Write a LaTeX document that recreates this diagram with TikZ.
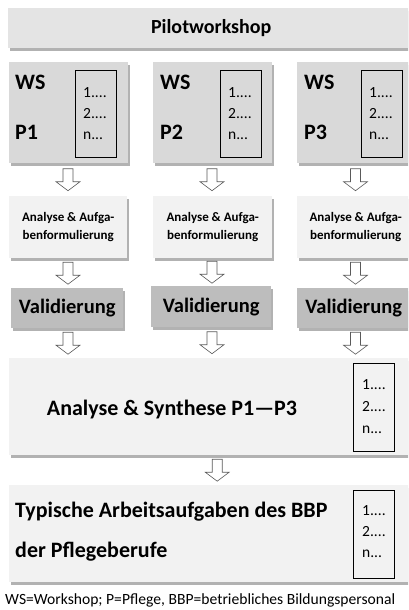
\documentclass[tikz,border=0pt]{standalone}
\usepackage{fontspec}
\setmainfont{Carlito}
\usetikzlibrary{calc,shadows}
\definecolor{pilotgray}{HTML}{E4E4E4}
\definecolor{wsgray}{HTML}{D9D9D9}
\definecolor{lightbox}{HTML}{F2F2F2}
\definecolor{valgray}{HTML}{BDBDBD}
\definecolor{arrowline}{HTML}{5A5A5A}
\tikzset{
  box/.style={draw=none, anchor=north west, inner sep=0pt,
    drop shadow={shadow xshift=1.5pt, shadow yshift=-2.5pt, fill=black, opacity=0.3}},
  listbox/.style={draw=black, line width=0.9pt, anchor=north west, inner sep=0pt,
    minimum width=41pt},
  blockarrow/.style={draw=arrowline, fill=white, line width=0.6pt, line join=miter},
  bigtxt/.style={font=\bfseries\fontsize{22}{26}\selectfont, inner sep=0pt},
  valtxt/.style={font=\bfseries\fontsize{20.5}{24}\selectfont, inner sep=0pt},
  pilottxt/.style={font=\bfseries\fontsize{20}{24}\selectfont, inner sep=0pt},
  smalltxt/.style={font=\bfseries\fontsize{13}{17.5}\selectfont, inner sep=0pt, align=center},
  listtxt/.style={font=\fontsize{15.5}{17}\selectfont, inner sep=0pt, anchor=base west},
}
\newcommand{\flowarrow}[3]{%
  \path ($(#1 |- #2.south)!0.5!(#1 |- #3.north)$) coordinate (tmp);
  \draw[blockarrow] (tmp) ++(-5,-11) -- ++(10,0) -- ++(0,13) -- ++(7,0) -- ++(-12,9)
    -- ++(-12,-9) -- ++(7,0) -- cycle;
}
\newcommand{\listlines}[4]{% name, x, y of first baseline, spacing
  \node[listtxt] (#1a) at (#2,#3) {1....};
  \node[listtxt] (#1b) at (#2,#3+#4) {2....};
  \node[listtxt] (#1c) at (#2,#3+2*#4) {n...};
}
\begin{document}
\begin{tikzpicture}[x=1pt,y=-1pt]
\fill[white] (0,0) rectangle (408,610);
\clip (0,0) rectangle (408,610);
\coordinate (c1) at (68,0);
\coordinate (c2) at (212,0);
\coordinate (c3) at (355.5,0);

% Pilotworkshop
\node[box, fill=pilotgray, minimum width=406pt, minimum height=40pt] (pilot) at (8,8) {};
\node[pilottxt] (pilott) at (pilot.center) {Pilotworkshop};

% WS boxes
\node[box, fill=wsgray, minimum width=119pt, minimum height=101pt] (ws1) at (9,62) {};
\node[box, fill=wsgray, minimum width=119pt, minimum height=101pt] (ws2) at (153,62) {};
\node[box, fill=wsgray, minimum width=117pt, minimum height=101pt] (ws3) at (297,62) {};
\node[listbox, minimum height=87pt] (l1) at (75,70) {};
\node[listbox, minimum height=87pt] (l2) at (220,70) {};
\node[listbox, minimum height=87pt] (l3) at (361,70) {};
\node[bigtxt, anchor=base west] (ws1a) at (15,89) {WS};
\node[bigtxt, anchor=base west] (ws1b) at (15,139) {P1};
\node[bigtxt, anchor=base west] (ws2a) at (160,89) {WS};
\node[bigtxt, anchor=base west] (ws2b) at (160,139) {P2};
\node[bigtxt, anchor=base west] (ws3a) at (304,89) {WS};
\node[bigtxt, anchor=base west] (ws3b) at (304,139) {P3};
\listlines{la}{83}{97}{21}
\listlines{lb}{228}{97}{21}
\listlines{lc}{369}{97}{21}

% Analyse boxes
\node[box, fill=lightbox, minimum width=118pt, minimum height=62pt] (an1) at (9,196) {};
\node[box, fill=lightbox, minimum width=119pt, minimum height=62pt] (an2) at (153,196) {};
\node[box, fill=lightbox, minimum width=117pt, minimum height=62pt] (an3) at (297,196) {};
\node[smalltxt] (an1t) at (an1.center) {Analyse \& Aufga-\\benformulierung};
\node[smalltxt] (an2t) at (an2.center) {Analyse \& Aufga-\\benformulierung};
\node[smalltxt] (an3t) at (an3.center) {Analyse \& Aufga-\\benformulierung};

% Validierung boxes
\node[box, fill=valgray, minimum width=112pt, minimum height=40pt] (va1) at (11,288) {};
\node[box, fill=valgray, minimum width=120pt, minimum height=41pt] (va2) at (151,286) {};
\node[box, fill=valgray, minimum width=113pt, minimum height=40pt] (va3) at (297,288) {};
\node[valtxt] (va1t) at (va1.center) {Validierung};
\node[valtxt] (va2t) at (va2.center) {Validierung};
\node[valtxt] (va3t) at (va3.center) {Validierung};

% Synthese
\node[box, fill=lightbox, minimum width=416pt, minimum height=97pt] (syn) at (9,358) {};
\node[listbox, minimum height=88pt] (ls) at (353,363) {};
\node[bigtxt, anchor=base] (synt) at (172,415) {Analyse \& Synthese P1—P3};
\listlines{ld}{362}{389}{22}

% Typische
\node[box, fill=lightbox, minimum width=416pt, minimum height=97pt] (typ) at (9,485) {};
\node[listbox, minimum height=88pt] (lt) at (353,490) {};
\node[bigtxt, anchor=base west] (typa) at (15,517) {Typische Arbeitsaufgaben des BBP};
\node[bigtxt, anchor=base west] (typb) at (15,557) {der Pflegeberufe};
\listlines{le}{362}{515}{21}

% footer
\node[font=\fontsize{15.6}{18}\selectfont, inner sep=0pt, anchor=base west] (foot) at (5,604)
  {WS=Workshop; P=Pflege, BBP=betriebliches Bildungspersonal};

% arrows
\flowarrow{c1}{ws1}{an1}
\flowarrow{c2}{ws2}{an2}
\flowarrow{c3}{ws3}{an3}
\flowarrow{c1}{an1}{va1}
\flowarrow{c2}{an2}{va2}
\flowarrow{c3}{an3}{va3}
\flowarrow{c1}{va1}{syn}
\flowarrow{c2}{va2}{syn}
\flowarrow{c3}{va3}{syn}
\flowarrow{syn}{syn}{typ}
\end{tikzpicture}
\end{document}
